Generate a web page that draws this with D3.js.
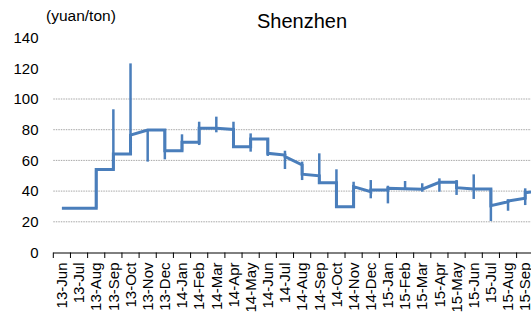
<!DOCTYPE html>
<html>
<head>
<title>Shenzhen</title>
<script src="https://d3js.org/d3.v7.min.js"></script>
<style>
  body { margin: 0; background: white; }
  text { font-family: "Liberation Sans", Arial, sans-serif; fill: #000; }
</style>
</head>
<body>
<div id="chart"></div>
<script>
// month labels (last one sits just past the right edge)
var months = ["13-Jun","13-Jul","13-Aug","13-Sep","13-Oct","13-Nov","13-Dec",
              "14-Jan","14-Feb","14-Mar","14-Apr","14-May","14-Jun","14-Jul","14-Aug","14-Sep","14-Oct","14-Nov","14-Dec",
              "15-Jan","15-Feb","15-Mar","15-Apr","15-May","15-Jun","15-Jul","15-Aug","15-Sep","15-Oct"];
var shownLabels = months.slice(0, 28);

// price at the start and end of each month segment (yuan/ton)
var segStart = [28.8,28.8,54,64.2,76.5,79.8,66.3,71.8,80.9,80.9,68.9,74,64.6,62.5,51,45.5,29.8,42.9,40.7,41.8,41.5,41.2,45.7,42.2,41.4,30.5,33.5,39];
var segEnd   = [28.8,28.8,54,64.2,79.8,79.8,66.3,71.8,80.9,80.2,68.9,74,63.5,57,50,45.5,29.8,39.6,40.7,41.5,41.2,45.7,45.7,41.4,41.4,33.1,35.3,40];

// monthly high / low range
var hi = [null,null,54,93.3,123.2,79.8,79.8,77,85.2,88.5,85.2,77.6,74,66.3,59.2,64.6,54.2,46.1,47.2,43.5,46.6,45.1,48.3,47.2,50.9,41.4,34.7,41.8];
var lo = [null,null,28.8,54,64.2,59.2,60.7,66.3,70,78.3,68.9,65.7,62.9,54.4,47.2,44.6,29.4,29.6,35.3,32,40.7,39.6,39.6,37.5,34.9,20.5,27.2,30.9];

var yTicks = [0,20,40,60,80,100,120,140];
var gridVals = [20,40,60,80,100];

var width = 531, height = 312;
var left = 53.3, step = 17.16;

var svg = d3.select("#chart").append("svg")
    .attr("width", width)
    .attr("height", height);

var x = d3.scaleBand()
    .domain(months)
    .range([left, left + step * months.length]);

var y = d3.scaleLinear()
    .domain([0, 140])
    .range([252.5, 37.6]);

function xc(i) { return x(months[i]) + x.bandwidth() / 2; }

// grid
svg.selectAll(".grid")
   .data(gridVals)
   .enter().append("line")
   .attr("x1", left).attr("x2", width)
   .attr("y1", function(d){ return y(d); })
   .attr("y2", function(d){ return y(d); })
   .attr("stroke", "#a6a6a6")
   .attr("stroke-width", 1)
   .attr("stroke-dasharray", "1.5,1");

// y labels
svg.selectAll(".ylab")
   .data(yTicks)
   .enter().append("text")
   .attr("x", 38.5)
   .attr("y", function(d){ return y(d); })
   .attr("dy", "0.35em")
   .attr("text-anchor", "end")
   .style("font-size", "15px")
   .text(function(d){ return d; });

// x axis
var xAxis = d3.axisBottom(x).tickSize(0).tickFormat("");
svg.append("g")
   .attr("transform", "translate(0," + y(0) + ")")
   .call(xAxis)
   .select(".domain").attr("stroke", "#000").attr("d", "M" + left + ",0.5H" + (width + 5));

svg.selectAll(".tick-mark")
   .data(d3.range(months.length + 1))
   .enter().append("line")
   .attr("x1", function(i){ return left + step * i; })
   .attr("x2", function(i){ return left + step * i; })
   .attr("y1", y(0))
   .attr("y2", y(0) + 5.5)
   .attr("stroke", "#000");

svg.selectAll(".xlab")
   .data(shownLabels)
   .enter().append("text")
   .attr("transform", function(d){ return "translate(" + (x(d) + x.bandwidth()/2) + "," + (y(0) + 10) + ") rotate(-90)"; })
   .attr("dy", "0.35em")
   .attr("text-anchor", "end")
   .style("font-size", "15px")
   .text(function(d){ return d; });

// step line
var pts = [];
segStart.forEach(function(v, i){
  pts.push([xc(i), y(v)]);
  pts.push([xc(i + 1), y(segEnd[i])]);
});
svg.append("path")
   .attr("d", d3.line()(pts))
   .attr("fill", "none")
   .attr("stroke", "#4a7ebb")
   .attr("stroke-width", 3)
   .attr("stroke-linejoin", "miter");

// high-low bars
svg.selectAll(".bar")
   .data(d3.range(hi.length).filter(function(i){ return hi[i] != null; }))
   .enter().append("line")
   .attr("x1", function(i){ return xc(i); })
   .attr("x2", function(i){ return xc(i); })
   .attr("y1", function(i){ return y(hi[i]); })
   .attr("y2", function(i){ return y(lo[i]); })
   .attr("stroke", "#4a7ebb")
   .attr("stroke-width", 2.5);

// titles
svg.append("text")
   .attr("x", 302).attr("y", 28)
   .attr("text-anchor", "middle")
   .style("font-size", "20px")
   .text("Shenzhen");

svg.append("text")
   .attr("x", 46).attr("y", 21)
   .style("font-size", "15.5px")
   .text("(yuan/ton)");
</script>
</body>
</html>
